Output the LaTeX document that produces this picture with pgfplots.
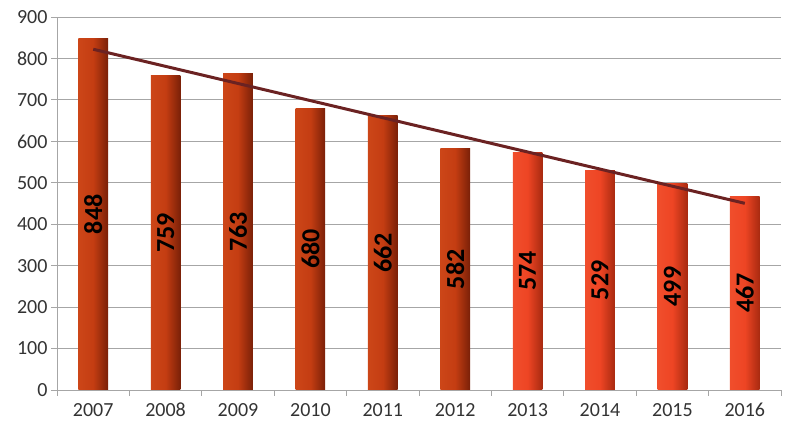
\documentclass[border=0pt]{standalone}
\usepackage{fontspec}
\setmainfont{Carlito}
\usepackage{pgfplots}
\pgfplotsset{compat=1.18}
\definecolor{barA}{HTML}{C43D12}
\definecolor{barAd}{HTML}{7A2008}
\definecolor{barAl}{HTML}{CC4618}
\definecolor{barB}{HTML}{EE4524}
\definecolor{barBd}{HTML}{A82A10}
\definecolor{barBl}{HTML}{F04E2C}
\definecolor{trend}{HTML}{6B2222}
\definecolor{gridc}{HTML}{A6A6A6}
\pgfplotsset{
  barA/.style={ybar, bar width=0.41, bar shift=0pt, draw=none,
    left color=barAl, right color=barAd, middle color=barA},
  barB/.style={ybar, bar width=0.41, bar shift=0pt, draw=none,
    left color=barBl, right color=barBd, middle color=barB},
}
\begin{document}
\begin{tikzpicture}
\begin{axis}[
  scale only axis, width=724bp, height=373bp,
  xmin=-0.5, xmax=9.5, ymin=0, ymax=900,
  ytick={0,100,...,900},
  xtick={0,...,9},
  xticklabels={2007,2008,2009,2010,2011,2012,2013,2014,2015,2016},
  minor xtick={-0.5,0.5,...,9.5},
  axis x line*=bottom, axis y line*=left,
  axis line style={draw=gridc, line width=0.8bp, -},
  ymajorgrids, grid style={draw=gridc, line width=0.8bp},
  major x tick style={draw=none},
  minor x tick style={draw=gridc, line width=0.8bp},
  ytick style={draw=gridc, line width=0.8bp},
  tick align=outside, major tick length=6bp, minor tick length=6bp,
  tick label style={font=\fontsize{20bp}{24bp}\selectfont, text=black!80},
  /pgf/number format/assume math mode=true,
  xticklabel style={yshift=-4bp, text height=13bp, text depth=0pt},
  clip=false,
]
\addplot[barA] coordinates {(0,848)};
\addplot[barA] coordinates {(1,759)};
\addplot[barA] coordinates {(2,763)};
\addplot[barA] coordinates {(3,680)};
\addplot[barA] coordinates {(4,662)};
\addplot[barA] coordinates {(5,582)};
\addplot[barB] coordinates {(6,574)};
\addplot[barB] coordinates {(7,529)};
\addplot[barB] coordinates {(8,499)};
\addplot[barB] coordinates {(9,467)};
\addplot[trend, line width=3bp] coordinates {(0,822.2) (9,450.4)};
\addplot[draw=none, mark=none, nodes near coords, point meta=explicit symbolic,
  every node near coord/.style={rotate=90, anchor=center, inner sep=0pt,
    font=\bfseries\fontsize{26bp}{30bp}\selectfont, text=black}]
  table[meta=lab] {
x y lab
0 424 848
1 379.5 759
2 381.5 763
3 340 680
4 331 662
5 291 582
6 287 574
7 264.5 529
8 249.5 499
9 233.5 467
};
\end{axis}
\pgfresetboundingbox
\path ([shift={(-57bp,-40bp)}]current axis.south west) rectangle ([shift={(17bp,17bp)}]current axis.north east);
\end{tikzpicture}
\end{document}
